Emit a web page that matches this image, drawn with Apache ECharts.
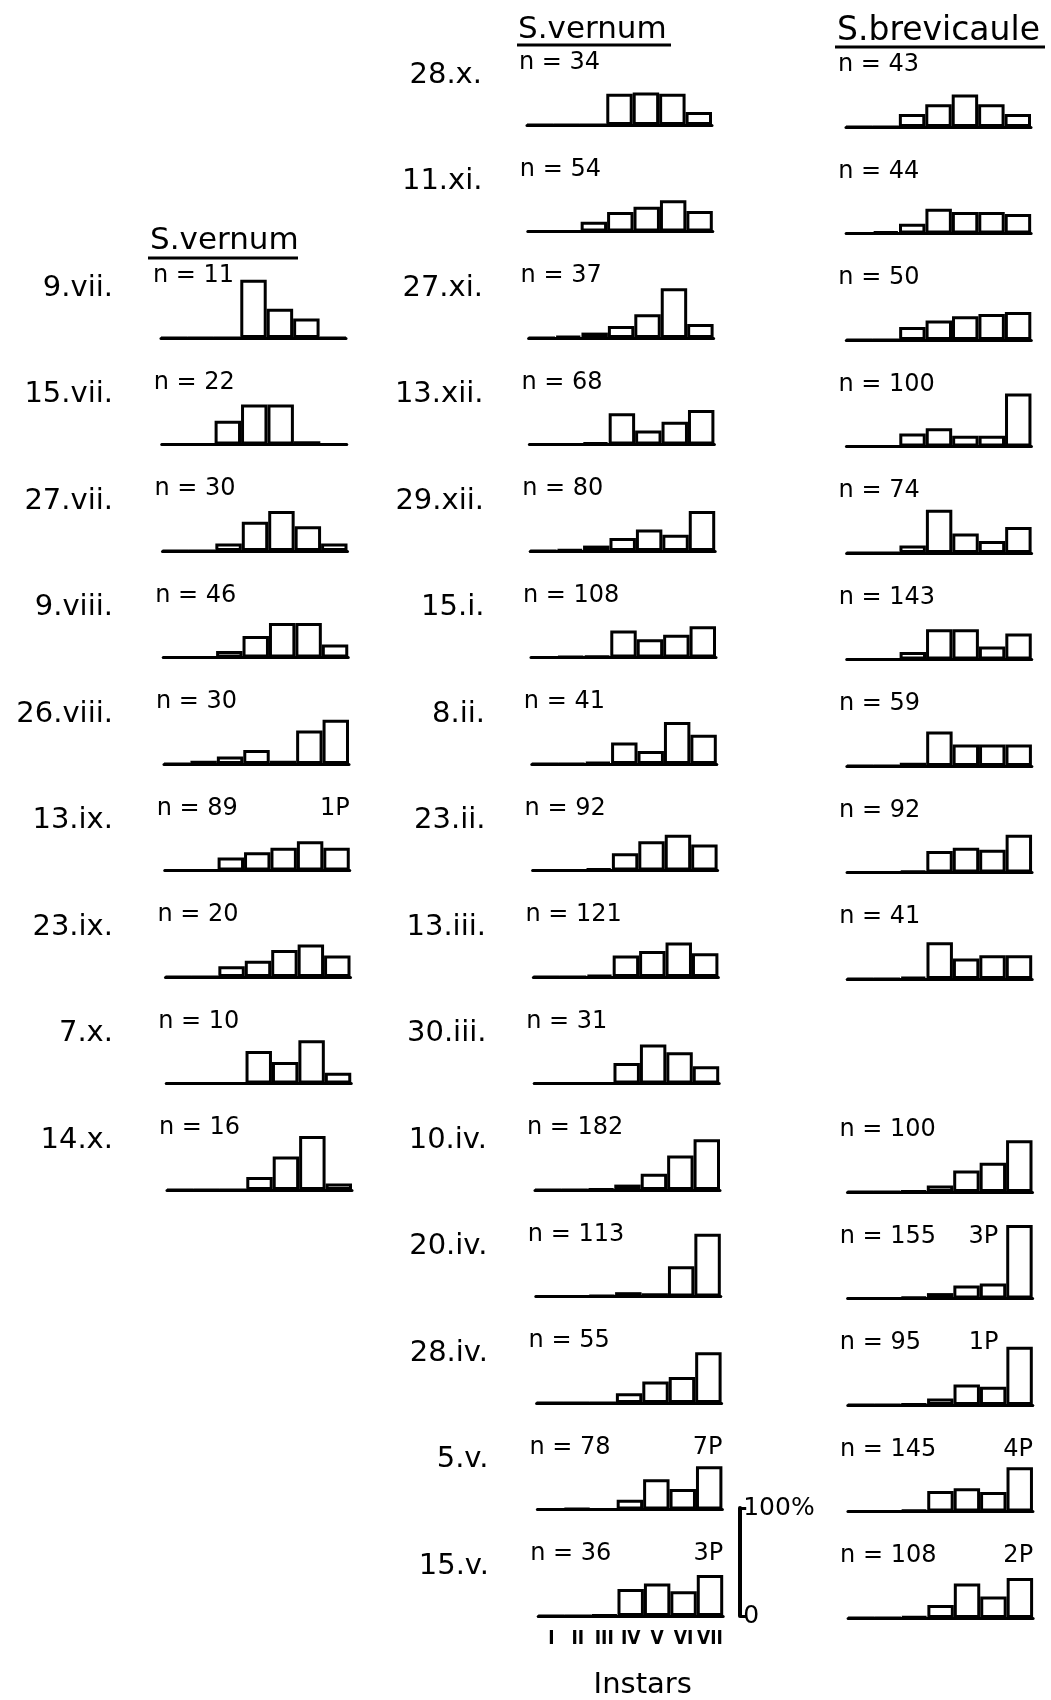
<!DOCTYPE html>
<html>
<head>
<meta charset="utf-8">
<title>Instar distributions</title>
<script src="https://cdn.jsdelivr.net/npm/echarts@6/dist/echarts.min.js"></script>
<style>
  html, body { margin: 0; padding: 0; background: #fff; }
  #chart { width: 1051px; height: 1700px; }
</style>
</head>
<body>
<div id="chart"></div>
<script>
var instars = ['I', 'II', 'III', 'IV', 'V', 'VI', 'VII']

// S. vernum, summer samples (left column), % per instar
var leftDates = ['9.vii.', '15.vii.', '27.vii.', '9.viii.', '26.viii.', '13.ix.', '23.ix.', '7.x.', '14.x.']
var leftN = [11, 22, 30, 46, 30, 89, 20, 10, 16]
var leftPupae = ['', '', '', '', '', '1P', '', '', '']
var leftPct = [
  [0, 0, 0, 54, 27, 18, 0],
  [0, 0, 22, 37, 37, 3, 0],
  [0, 0, 7, 27, 37, 23, 7],
  [0, 0, 6, 20, 32, 32, 12],
  [0, 3, 7, 13, 3, 31, 41],
  [0, 0, 12, 17, 21, 27, 21],
  [0, 0, 10, 15, 25, 30, 20],
  [0, 0, 0, 30, 20, 40, 10],
  [0, 0, 0, 12, 31, 50, 6]
]

// S. vernum, winter samples (middle column)
var midDates = ['28.x.', '11.xi.', '27.xi.', '13.xii.', '29.xii.', '15.i.', '8.ii.', '23.ii.', '13.iii.', '30.iii.', '10.iv.', '20.iv.', '28.iv.', '5.v.', '15.v.']
var midN = [34, 54, 37, 68, 80, 108, 41, 92, 121, 31, 182, 113, 55, 78, 36]
var midPupae = ['', '', '', '', '', '', '', '', '', '', '', '', '', '7P', '3P']
var midPct = [
  [0, 0, 0, 29, 30, 29, 12],
  [0, 0, 9, 18, 23, 29, 19],
  [0, 2, 5, 11, 22, 46, 13],
  [0, 0, 2, 29, 13, 21, 32],
  [0, 1.5, 5, 12, 20, 15, 37],
  [0, 1, 1.5, 25, 17, 21, 29],
  [0, 0, 2, 20, 12, 39, 27],
  [0, 0, 2, 16, 27, 33, 24],
  [0, 0, 2, 20, 24, 32, 22],
  [0, 0, 0, 19, 36, 29, 16],
  [0, 0, 1, 5, 15, 32, 47],
  [0, 0, 1, 4, 3, 28, 58],
  [0, 0, 0, 9, 20, 24, 47],
  [0, 1, 0, 9, 28, 19, 40],
  [0, 0, 1, 25, 30, 23, 38]
]

// S. brevicaule, same dates as the middle column (no sample on 30.iii.)
var rightN = [43, 44, 50, 100, 74, 143, 59, 92, 41, null, 100, 155, 95, 145, 108]
var rightPupae = ['', '', '', '', '', '', '', '', '', '', '', '3P', '1P', '4P', '2P']
var rightPct = [
  [0, 0, 12, 21, 30, 21, 12],
  [0, 2, 9, 23, 20, 20, 18],
  [0, 0, 12, 18, 22, 24, 26],
  [0, 0, 12, 17, 10, 10, 49],
  [0, 0, 7, 40, 18, 11, 24],
  [0, 0, 7, 28, 28, 12, 24],
  [0, 0, 3, 32, 20, 20, 20],
  [0, 0, 1.5, 20, 23, 21, 35],
  [0, 0, 2, 34, 19, 22, 22],
  null,
  [0, 0, 1, 6, 20, 27, 48],
  [0, 0, 1.5, 5, 12, 14, 68],
  [0, 0, 1, 6, 19, 17, 54],
  [0, 0, 1.5, 19, 21.5, 18, 41],
  [0, 0, 1.5, 12, 32, 20, 37]
]

var FONT = "'DejaVu Sans', sans-serif"
var NARROW = "'DejaVu Sans Condensed', 'DejaVu Sans', sans-serif"
var ROW0 = 125, ROW_STEP = 106.5, BAR_H = 108, PANEL_W = 185

var grids = [], xAxes = [], yAxes = [], series = [], texts = []
var scaleIndex = -1

function label (text, x, y, align, size) {
  return {
    type: 'text', x: x, y: y, silent: true,
    style: {
      text: text, fill: '#000', font: size + 'px ' + FONT,
      align: align, verticalAlign: 'middle', textAlign: align, textVerticalAlign: 'middle'
    }
  }
}

function line (x1, y1, x2, y2) {
  return { type: 'line', silent: true, shape: { x1: x1, y1: y1, x2: x2, y2: y2 }, style: { stroke: '#000', lineWidth: 3 } }
}

function addPanel (left, base, pct, n, pupae, bottom) {
  var i = grids.length
  grids.push({ left: left, top: base - BAR_H, width: PANEL_W, height: BAR_H, containLabel: false, outerBoundsMode: 'none' })
  xAxes.push({
    gridIndex: i,
    type: 'category',
    data: instars,
    axisLine: { lineStyle: { color: '#000', width: 3 } },
    axisTick: { show: false },
    axisLabel: {
      show: bottom, interval: 0, margin: 14, color: '#000',
      fontSize: 19, fontWeight: 'bold', fontFamily: NARROW
    },
    name: bottom ? 'Instars' : '',
    nameLocation: 'middle',
    nameGap: 55,
    nameTextStyle: { color: '#000', fontSize: 29, fontFamily: FONT, padding: [0, 0, 0, 24] }
  })
  yAxes.push({ gridIndex: i, type: 'value', min: 0, max: 100, show: false })
  series.push({
    type: 'bar',
    xAxisIndex: i,
    yAxisIndex: i,
    data: pct,
    barCategoryGap: '0%',
    silent: true,
    itemStyle: { color: '#fff', borderColor: '#000', borderWidth: 3 }
  })
  texts.push(label('n = ' + n, left - 8, base - 62, 'left', 24))
  if (pupae) {
    var right = pct[6] > 48 ? left + 6 * PANEL_W / 7 - 8 : left + PANEL_W
    texts.push(label(pupae, right, base - 62, 'right', 24))
  }
  return i
}

leftPct.forEach(function (pct, k) {
  var row = k + 2
  var base = ROW0 + row * ROW_STEP
  addPanel(161 + k * 0.75, base, pct, leftN[k], leftPupae[k], false)
  texts.push(label(leftDates[k], 113, base - 50, 'right', 29))
})

midPct.forEach(function (pct, row) {
  var base = ROW0 + row * ROW_STEP
  var last = row === midPct.length - 1
  var idx = addPanel(527 + row * 0.8, base, pct, midN[row], midPupae[row], last)
  if (last) scaleIndex = idx
  texts.push(label(midDates[row], 482 + row * 0.5, base - 50, 'right', 29))
})

rightPct.forEach(function (pct, row) {
  if (!pct) return
  var base = ROW0 + 2 + row * ROW_STEP
  addPanel(846 + row * 0.15, base, pct, rightN[row], rightPupae[row], false)
})

// 0-100% scale bracket beside the last middle panel
yAxes[scaleIndex] = {
  gridIndex: scaleIndex,
  type: 'value',
  min: 0,
  max: 100,
  interval: 100,
  position: 'right',
  offset: 17,
  axisLine: { show: true, lineStyle: { color: '#000', width: 4 } },
  axisTick: { show: true, length: 6, lineStyle: { color: '#000', width: 3 } },
  splitLine: { show: false },
  axisLabel: {
    show: true, margin: 3, color: '#000', fontSize: 25, fontFamily: FONT,
    formatter: function (v) { return v === 100 ? '100%' : '0' }
  }
}

// species headers
texts.push(label('S.vernum', 150, 241, 'left', 31))
texts.push(line(148, 258, 298, 258))
texts.push(label('S.vernum', 518, 30, 'left', 31))
texts.push(line(517, 45, 671, 45))
texts.push(label('S.brevicaule', 837, 31, 'left', 33))
texts.push(line(835, 47, 1045, 47))

var chart = echarts.init(document.getElementById('chart'))
chart.setOption({
  backgroundColor: '#fff',
  animation: false,
  grid: grids,
  xAxis: xAxes,
  yAxis: yAxes,
  series: series,
  graphic: { elements: texts }
})
</script>
</body>
</html>
